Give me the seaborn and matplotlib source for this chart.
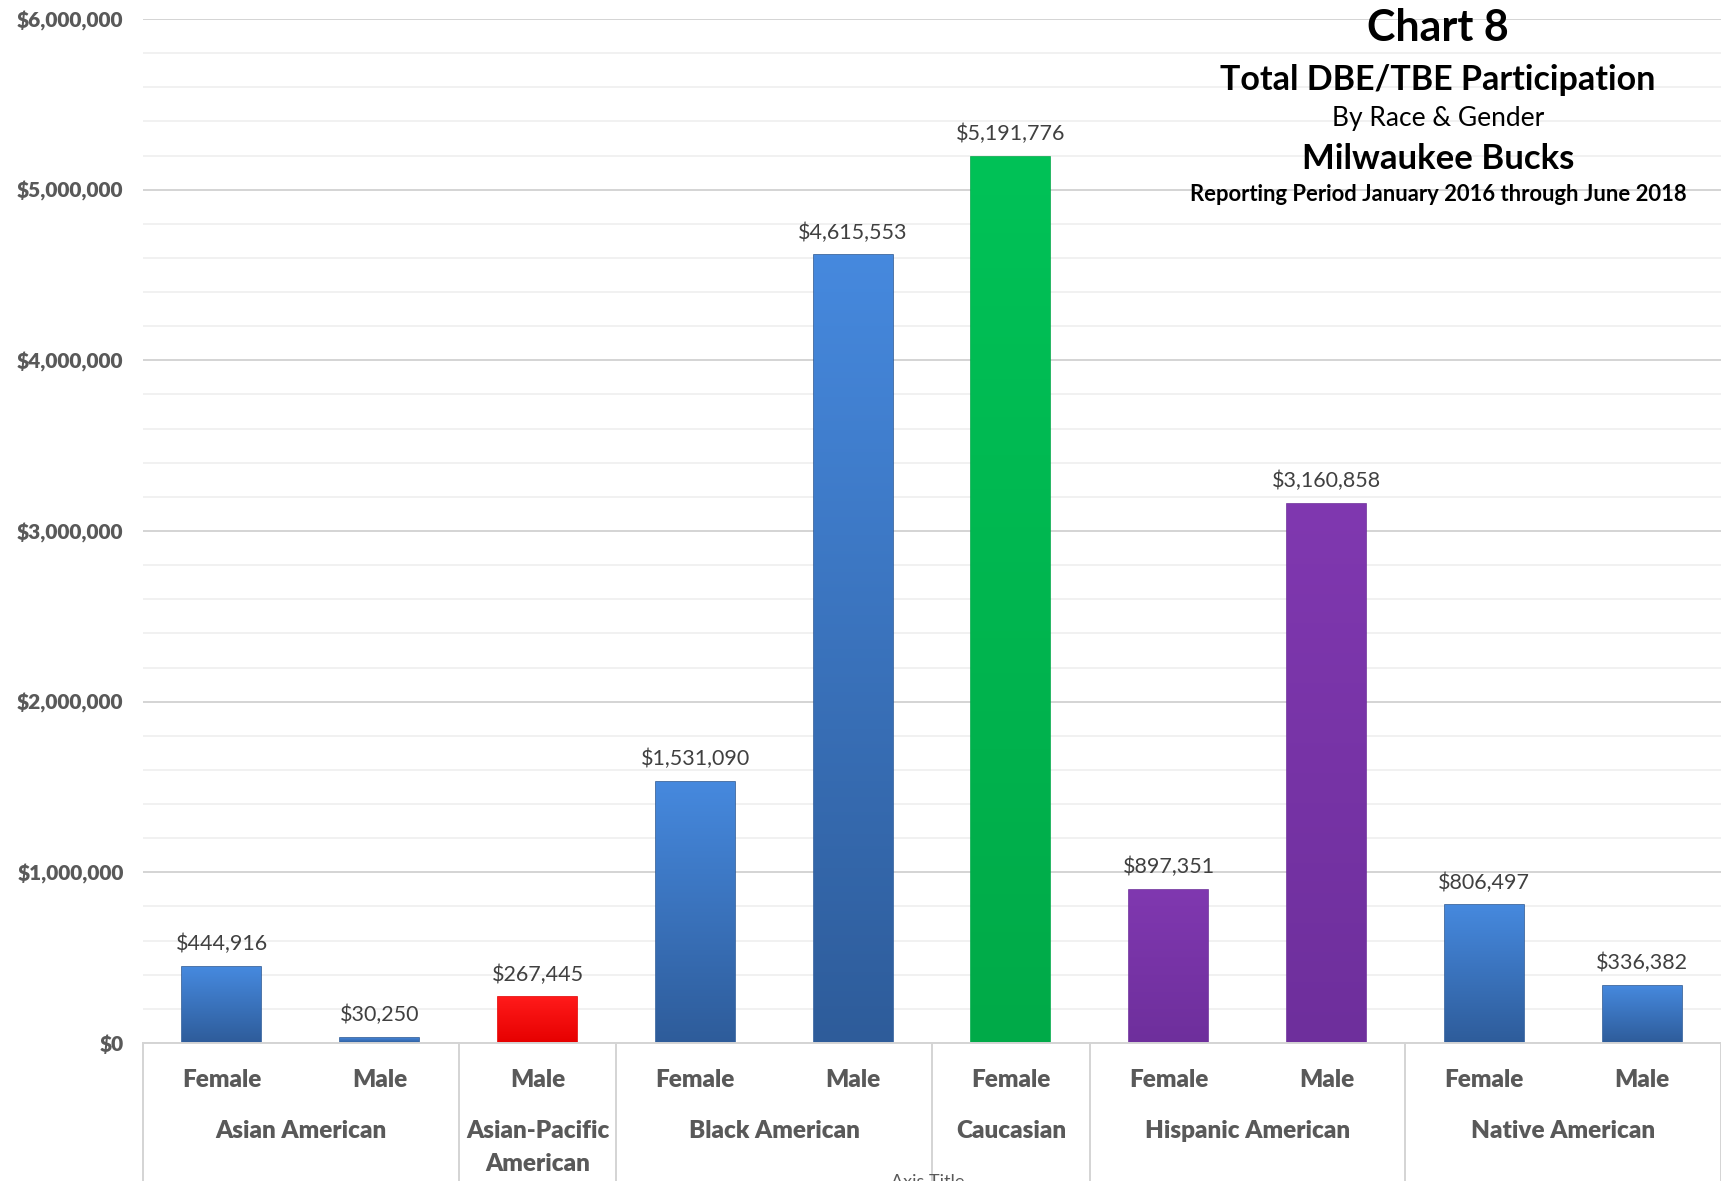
import numpy as np
import pandas as pd
import matplotlib
matplotlib.use("Agg")
import matplotlib.pyplot as plt
import matplotlib.transforms as mtransforms
from matplotlib.colors import LinearSegmentedColormap
from matplotlib.ticker import MultipleLocator, FuncFormatter
import seaborn as sns

# Données
groups = ["Asian American", "Asian American", "Asian-Pacific\nAmerican",
          "Black American", "Black American", "Caucasian",
          "Hispanic American", "Hispanic American",
          "Native American", "Native American"]
genders = ["Female", "Male", "Male", "Female", "Male", "Female",
           "Female", "Male", "Female", "Male"]
amounts = [444916, 30250, 267445, 1531090, 4615553, 5191776,
           897351, 3160858, 806497, 336382]
bar_colors = ["blue", "blue", "red", "blue", "blue", "green",
              "purple", "purple", "blue", "blue"]

gradients = {
    "blue": ("#2E5C9A", "#4689DE"),
    "red": ("#E60000", "#FF1A1A"),
    "green": ("#00AA48", "#00C257"),
    "purple": ("#6E2F9C", "#8038B0"),
}

df = pd.DataFrame({"group": groups, "gender": genders, "amount": amounts,
                   "color": bar_colors})
df["pos"] = [str(i) for i in range(len(df))]

sns.set_style("white")
plt.rcParams["font.family"] = ["Lato", "DejaVu Sans"]

fig = plt.figure(figsize=(17.21, 11.81), dpi=100)
ax = fig.add_axes([0.0831, 0.1169, 0.9169, 0.867])

palette = {p: gradients[c][1] for p, c in zip(df["pos"], df["color"])}
sns.barplot(data=df, x="pos", y="amount", hue="pos", palette=palette,
            legend=False, width=0.5, ax=ax, zorder=3)

# Dégradé sur chaque barre
for patch, c in zip(ax.patches, df["color"]):
    x0, y0 = patch.get_x(), patch.get_y()
    w, h = patch.get_width(), patch.get_height()
    cmap = LinearSegmentedColormap.from_list("g", list(gradients[c]))
    grad = np.linspace(0, 1, 256).reshape(-1, 1)
    im = ax.imshow(grad, extent=[x0, x0 + w, y0, y0 + h], origin="lower",
                   aspect="auto", cmap=cmap, zorder=3.5)
    im.set_clip_path(patch)
    patch.set_edgecolor(gradients[c][0])
    patch.set_linewidth(1.2)
ax.set_xlim(-0.5, len(df) - 0.5)
ax.set_ylim(0, 6000000)

# Étiquettes de valeurs
for i, v in enumerate(df["amount"]):
    ax.annotate(f"${v:,.0f}", (i, v), xytext=(0, 9), textcoords="offset points",
                ha="center", va="bottom", fontsize=15.5, color="#404040")

# Grille
ax.yaxis.set_major_locator(MultipleLocator(1000000))
ax.yaxis.set_minor_locator(MultipleLocator(200000))
ax.grid(axis="y", which="major", color="#D4D4D4", linewidth=1.4, zorder=0)
ax.grid(axis="y", which="minor", color="#EFEFEF", linewidth=1.2, zorder=0)
ax.yaxis.set_major_formatter(FuncFormatter(lambda v, p: f"${v:,.0f}"))
ax.tick_params(axis="y", which="both", length=0, pad=14)
for lab in ax.get_yticklabels():
    lab.set_fontweight("heavy")
    lab.set_fontsize(15)
    lab.set_color("#595959")

ax.set_xticks([])
ax.set_xlabel("")
ax.set_ylabel("")
for s in ["top", "right", "left"]:
    ax.spines[s].set_visible(False)
ax.spines["bottom"].set_color("#D4D4D4")
ax.spines["bottom"].set_linewidth(1.4)
ax.spines["bottom"].set_zorder(4)

# Axe des catégories à deux niveaux
trans = mtransforms.blended_transform_factory(ax.transData, ax.transAxes)
for i, g in enumerate(df["gender"]):
    ax.text(i, -0.036, g, transform=trans, ha="center", va="center",
            fontsize=17.5, fontweight="heavy", color="#595959")

bounds = [-0.5]
names = []
start = 0
for i in range(1, len(df) + 1):
    if i == len(df) or df["group"][i] != df["group"][i - 1]:
        names.append((df["group"][start], (start + i - 1) / 2))
        bounds.append(i - 0.5)
        start = i
for b in bounds:
    ax.plot([b, b], [0, -0.14], transform=trans, color="#D4D4D4",
            linewidth=1.4, clip_on=False)
for name, xc in names:
    ax.text(xc, -0.075, name, transform=trans, ha="center", va="top",
            fontsize=17.5, fontweight="heavy", color="#595959", linespacing=1.6)

fig.text(0.539, 0.006, "Axis Title", ha="center", va="top", fontsize=13,
         color="#595959")

# Titre
tx = 0.8355
fig.text(tx, 0.976, "Chart 8", ha="center", va="center", fontsize=31,
         fontweight="bold", color="black")
fig.text(tx, 0.932, "Total DBE/TBE Participation", ha="center", va="center",
         fontsize=24.5, fontweight="bold", color="black")
fig.text(tx, 0.900, "By Race & Gender", ha="center", va="center",
         fontsize=19, color="black")
fig.text(tx, 0.865, "Milwaukee Bucks", ha="center", va="center",
         fontsize=25, fontweight="bold", color="black")
fig.text(tx, 0.835, "Reporting Period January 2016 through June 2018",
         ha="center", va="center", fontsize=15.8, fontweight="bold", color="black")

fig.savefig("out.png", dpi=100)
